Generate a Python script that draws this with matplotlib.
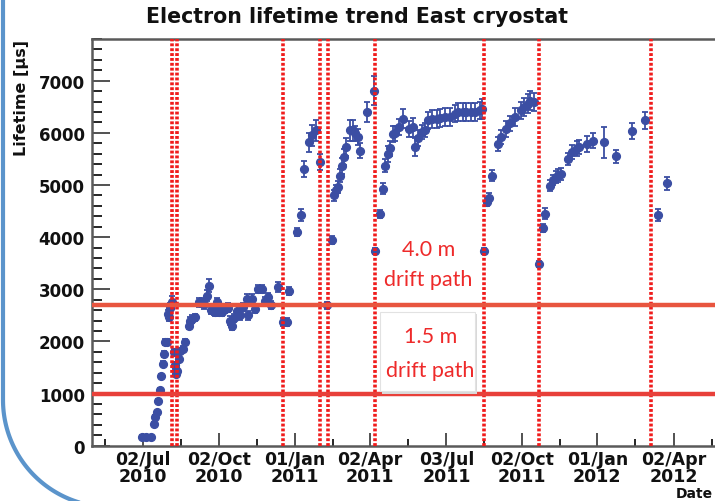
import numpy as np
import matplotlib
matplotlib.use("Agg")
import matplotlib.pyplot as plt
import matplotlib.dates as mdates
from matplotlib.patches import Rectangle

# ---- data ----
dates = [
    # first fill, summer 2010
    "2010-07-01", "2010-07-06", "2010-07-11", "2010-07-15", "2010-07-16", "2010-07-19",
    "2010-07-20", "2010-07-22", "2010-07-23", "2010-07-26", "2010-07-27", "2010-07-28",
    "2010-07-31", "2010-08-01", "2010-08-02", "2010-08-04", "2010-08-06",
    "2010-08-08", "2010-08-10", "2010-08-11", "2010-08-12", "2010-08-14", "2010-08-16",
    "2010-08-19", "2010-08-21", "2010-08-26", "2010-08-28", "2010-08-30", "2010-09-03",
    "2010-09-07", "2010-09-11", "2010-09-13", "2010-09-17", "2010-09-20", "2010-09-22",
    "2010-09-25", "2010-09-27", "2010-09-29", "2010-10-01", "2010-10-05", "2010-10-09",
    "2010-10-13", "2010-10-15", "2010-10-17", "2010-10-20", "2010-10-23", "2010-10-27",
    "2010-10-31", "2010-11-04", "2010-11-06", "2010-11-10", "2010-11-14", "2010-11-18",
    "2010-11-22", "2010-11-26", "2010-11-30", "2010-12-03", "2010-12-12", "2010-12-18",
    "2010-12-22", "2010-12-25",
    # early 2011
    "2011-01-04", "2011-01-08", "2011-01-12", "2011-01-18", "2011-01-22", "2011-01-26",
    "2011-02-01", "2011-02-09", "2011-02-15", "2011-02-17", "2011-02-20", "2011-02-22",
    "2011-02-25", "2011-02-27", "2011-03-01", "2011-03-04", "2011-03-09", "2011-03-12",
    "2011-03-15", "2011-03-18", "2011-03-21", "2011-03-29", "2011-04-07",
    # spring/summer 2011
    "2011-04-08", "2011-04-14", "2011-04-17", "2011-04-20", "2011-04-24", "2011-04-26",
    "2011-04-30", "2011-05-02", "2011-05-07", "2011-05-11", "2011-05-19", "2011-05-24",
    "2011-05-26", "2011-05-30", "2011-06-03", "2011-06-07", "2011-06-11", "2011-06-15",
    "2011-06-21", "2011-06-25", "2011-07-01", "2011-07-07", "2011-07-13", "2011-07-17",
    "2011-07-23", "2011-07-27", "2011-08-02", "2011-08-06", "2011-08-12", "2011-08-15",
    # autumn 2011
    "2011-08-17", "2011-08-21", "2011-08-23", "2011-08-27", "2011-09-03", "2011-09-07",
    "2011-09-13", "2011-09-18", "2011-09-24", "2011-10-01", "2011-10-05", "2011-10-09",
    "2011-10-12", "2011-10-16",
    # winter 2011/12
    "2011-10-22", "2011-10-27", "2011-10-30", "2011-11-05", "2011-11-09", "2011-11-12",
    "2011-11-15", "2011-11-18", "2011-11-27", "2011-12-02", "2011-12-07", "2011-12-10",
    "2011-12-19", "2011-12-27", "2012-01-09", "2012-01-23", "2012-02-12", "2012-02-27",
    # spring 2012
    "2012-03-14", "2012-03-25",
]
lifetime = [
    170, 160, 170, 420, 550, 640,
    860, 1060, 1340, 1570, 1760, 1990,
    1990, 2530, 2470, 2650, 2750,
    1790, 1540, 1380, 1440, 1660, 1820,
    1860, 1990, 2300, 2400, 2430, 2460,
    2750, 2750, 2720, 2880, 3070, 2600,
    2590, 2560, 2750, 2560, 2560, 2620,
    2650, 2400, 2300, 2450, 2590, 2500,
    2660, 2820, 2500, 2820, 2620, 3010,
    3010, 2780, 2850, 2700, 3040, 2370,
    2370, 2970,
    4100, 4420, 5310, 5820, 5950, 6050,
    5440, 2690, 3940, 4800, 4900, 4960,
    5180, 5370, 5540, 5730, 6050, 6050,
    5990, 5920, 5660, 6400, 6810,
    3740, 4450, 4930, 5370, 5600, 5700,
    5980, 5990, 6110, 6270, 6080, 6110,
    5730, 5900, 6020, 6060, 6240, 6260,
    6270, 6280, 6300, 6300, 6370, 6400,
    6400, 6400, 6400, 6400, 6430, 6460,
    3740, 4680, 4760, 5180, 5790, 5920,
    6080, 6180, 6300, 6430, 6500, 6560,
    6620, 6590,
    3490, 4170, 4450, 4990, 5100, 5150,
    5180, 5210, 5500, 5630, 5700, 5730,
    5790, 5850, 5820, 5550, 6030, 6240,
    4420, 5030,
]
lifetime_err = [
    30, 30, 30, 30, 30, 30,
    40, 40, 40, 50, 50, 50,
    50, 80, 80, 90, 120,
    60, 60, 50, 50, 60, 60,
    60, 60, 70, 70, 70, 70,
    90, 90, 100, 110, 120, 80,
    80, 80, 90, 80, 80, 80,
    80, 80, 80, 80, 80, 80,
    80, 80, 80, 80, 80, 80,
    80, 80, 80, 80, 100, 80,
    80, 80,
    80, 120, 150, 180, 200, 200,
    150, 60, 80, 100, 100, 120,
    120, 150, 150, 180, 200, 200,
    150, 150, 150, 200, 280,
    60, 80, 100, 130, 150, 150,
    150, 150, 160, 180, 150, 180,
    180, 150, 130, 130, 160, 170,
    170, 170, 170, 170, 170, 170,
    170, 170, 170, 170, 170, 190,
    60, 80, 80, 100, 130, 130,
    150, 150, 170, 170, 170, 180,
    180, 180,
    60, 80, 100, 100, 100, 120,
    120, 120, 120, 130, 140, 140,
    150, 150, 300, 130, 150, 160,
    120, 120,
]

# interventions (red dotted lines) and drift-path thresholds
event_dates = ["2010-08-06", "2010-08-12", "2010-12-18", "2011-01-31", "2011-02-10",
               "2011-04-08", "2011-08-17", "2011-10-22", "2012-03-06"]
threshold_4m = 2700
threshold_15m = 1000

tick_dates = ["2010-07-02", "2010-10-02", "2011-01-01", "2011-04-02",
              "2011-07-03", "2011-10-02", "2012-01-01", "2012-04-02"]
tick_labels = ["02/Jul\n2010", "02/Oct\n2010", "01/Jan\n2011", "02/Apr\n2011",
               "03/Jul\n2011", "02/Oct\n2011", "01/Jan\n2012", "02/Apr\n2012"]

x = mdates.datestr2num(dates)
xt = mdates.datestr2num(tick_dates)
step = np.diff(xt).mean()
xminor = np.concatenate([[xt[0] - step / 2], (xt[:-1] + xt[1:]) / 2, [xt[-1] + step / 2]])

W, H = 715, 502
fig = plt.figure(figsize=(W / 100, H / 100), dpi=100)
fig.patch.set_facecolor("white")

ax_l, ax_r, ax_t, ax_b = 91.7, 730, 40, 446.7
ax = fig.add_axes([ax_l / W, 1 - ax_b / H, (ax_r - ax_l) / W, (ax_b - ax_t) / H])

blue = "#3b4ea3"
red = "#f01c1c"

ax.errorbar(x, lifetime, yerr=lifetime_err, fmt="o", color=blue, ms=5.6,
            elinewidth=1.3, capsize=2.2, capthick=1.3, zorder=3)

for d in mdates.datestr2num(event_dates):
    ax.axvline(d, color=red, lw=2.6, dashes=(0.8, 0.55), zorder=4)

ax.axhline(threshold_4m, color="#e8553f", lw=3.2, zorder=5)
ax.axhline(threshold_15m, color="#e8403a", lw=3.2, zorder=5)

# drift path annotations
txt_kw = dict(color="#ee2a2a", fontsize=15.5, family=["Lato", "DejaVu Sans"],
              ha="center", va="center", zorder=7)
ax.text(mdates.datestr2num("2011-06-11"), 3770, "4.0 m", **txt_kw)
ax.text(mdates.datestr2num("2011-06-11"), 3200, "drift path", **txt_kw)
bx0, bx1 = mdates.datestr2num("2011-04-14"), mdates.datestr2num("2011-08-06")
ax.add_patch(Rectangle((bx0 + 2.5, 1000), bx1 - bx0, 1520, facecolor="#d9d9d9",
                       edgecolor="none", zorder=5.5))
ax.add_patch(Rectangle((bx0, 1050), bx1 - bx0, 1520, facecolor="white",
                       edgecolor="#e2e2e2", lw=0.8, zorder=6))
ax.text(mdates.datestr2num("2011-06-14"), 2110, "1.5 m", **txt_kw)
ax.text(mdates.datestr2num("2011-06-13"), 1450, "drift path", **txt_kw)

ax.set_xlim(mdates.datestr2num("2010-05-01"), mdates.datestr2num("2012-06-09"))
ax.set_ylim(0, 7800)

ax.set_xticks(xt)
ax.set_xticklabels(tick_labels, fontsize=12.5, fontweight="bold", linespacing=0.95)
ax.set_xticks(xminor, minor=True)
ax.set_yticks(np.arange(0, 7001, 1000))
ax.set_yticks(np.arange(0, 7801, 200), minor=True)
for lab in ax.get_yticklabels():
    lab.set_fontweight("bold")
    lab.set_fontsize(12)

ax.tick_params(axis="x", which="major", direction="in", length=9.5, width=1.2, pad=3)
ax.tick_params(axis="x", which="minor", direction="in", length=5, width=1.2)
ax.tick_params(axis="y", which="major", direction="in", length=13, width=1.2, pad=5)
ax.tick_params(axis="y", which="minor", direction="in", length=7, width=1.2)
ax.tick_params(colors="#333333", labelcolor="#111111")

for s in ax.spines.values():
    s.set_color("#5a5a5a")
    s.set_linewidth(1.8)

fig.text(0.5, 1 - 17 / H, "Electron lifetime trend East cryostat",
         ha="center", va="center", fontsize=14.8, fontweight="bold", color="#111111")
fig.text(22 / W, 1 - 40 / H, "Lifetime [\u00b5s]", rotation=90, ha="center", va="top",
         fontsize=11.5, fontweight="bold", color="#111111")
fig.text(713 / W, 1 - 501 / H, "Date", ha="right", va="bottom", fontsize=10,
         fontweight="bold", color="#111111")

# slide frame corner on the left
ov = fig.add_axes([0, 0, 1, 1], facecolor="none")
ov.set_xlim(0, W)
ov.set_ylim(H, 0)
ov.axis("off")
t = np.linspace(0, np.pi / 2, 60)
cx, cy, r = 110, 401, 107
fx = np.concatenate([[3], cx - r * np.cos(t), [900]])
fy = np.concatenate([[-10], cy + r * np.sin(t), [cy + r]])
ov.plot(fx, fy, color="#5b94cb", lw=3)

fig.savefig("out.png", dpi=100)
